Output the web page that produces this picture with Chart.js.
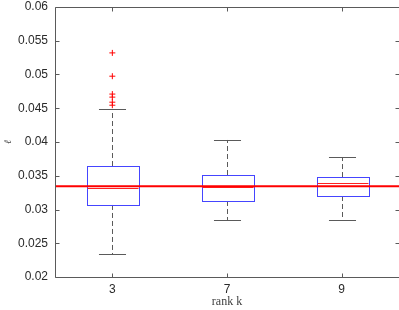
<!DOCTYPE html>
<html>
<head>
<meta charset="utf-8">
<script src="https://cdn.jsdelivr.net/npm/chart.js@4/dist/chart.umd.min.js"></script>
<style>
  html, body { margin: 0; padding: 0; background: #fff; }
  #wrap { width: 399px; height: 310px; }
</style>
</head>
<body>
<div id="wrap"><canvas id="chart" width="399" height="310"></canvas></div>
<script>
// box plot data, one entry per rank
const ranks = ['3', '7', '9'];
const whiskerLow = [0.0234, 0.02845, 0.02845];
const q1 = [0.03067, 0.03126, 0.0320];
const median = [0.03319, 0.03333, 0.03393];
const q3 = [0.03644, 0.03511, 0.03481];
const whiskerHigh = [0.04485, 0.0403, 0.03778];
// outliers (rank index, value)
const outlierRank = [1, 1, 1, 1, 1, 1];
const outlierValue = [0.0532, 0.04975, 0.04710, 0.04665, 0.04590, 0.04545];
const refValue = 0.03345;
const yTicks = [0.02, 0.025, 0.03, 0.035, 0.04, 0.045, 0.05, 0.055, 0.06];

const axisGrey = '#5a5a5a';

// draws boxes, whiskers, medians, the reference line and the MATLAB style frame
const boxPlugin = {
    id: 'boxPlugin',
    beforeDatasetsDraw(chart) {
        const { ctx, chartArea: a, scales: { x, y } } = chart;
        const unit = x.getPixelForValue(2) - x.getPixelForValue(1);
        const boxHalf = unit * 0.226;
        const capHalf = unit * 0.118;

        ctx.save();
        ranks.forEach((r, i) => {
            const cx = Math.round(x.getPixelForValue(i + 1)) + 0.5;
            const yLo = y.getPixelForValue(whiskerLow[i]);
            const yQ1 = y.getPixelForValue(q1[i]);
            const yMed = y.getPixelForValue(median[i]);
            const yQ3 = y.getPixelForValue(q3[i]);
            const yHi = y.getPixelForValue(whiskerHigh[i]);

            // dashed whiskers
            ctx.strokeStyle = axisGrey;
            ctx.lineWidth = 1;
            ctx.setLineDash([5, 3]);
            ctx.beginPath();
            ctx.moveTo(cx, yQ3); ctx.lineTo(cx, yHi);
            ctx.moveTo(cx, yQ1); ctx.lineTo(cx, yLo);
            ctx.stroke();
            ctx.setLineDash([]);

            // caps
            ctx.beginPath();
            ctx.moveTo(cx - capHalf, Math.round(yHi) + 0.5); ctx.lineTo(cx + capHalf, Math.round(yHi) + 0.5);
            ctx.moveTo(cx - capHalf, Math.round(yLo) + 0.5); ctx.lineTo(cx + capHalf, Math.round(yLo) + 0.5);
            ctx.stroke();

            // box
            ctx.strokeStyle = '#4545ff';
            ctx.strokeRect(Math.round(cx - boxHalf) + 0.5, Math.round(yQ3) + 0.5,
                Math.round(boxHalf * 2), Math.round(yQ1 - yQ3));

            // median
            ctx.strokeStyle = '#ff2020';
            ctx.beginPath();
            ctx.moveTo(Math.round(cx - boxHalf) + 0.5, Math.round(yMed) + 0.5);
            ctx.lineTo(Math.round(cx + boxHalf) + 0.5, Math.round(yMed) + 0.5);
            ctx.stroke();
        });

        // reference line
        const yRef = y.getPixelForValue(refValue);
        ctx.strokeStyle = '#ff0000';
        ctx.lineWidth = 2;
        ctx.beginPath();
        ctx.moveTo(a.left, yRef);
        ctx.lineTo(a.right, yRef);
        ctx.stroke();

        // frame with inward ticks (right edge sits just past the canvas)
        ctx.strokeStyle = axisGrey;
        ctx.lineWidth = 1;
        const L = a.left + 0.5, R = a.right + 0.5, T = a.top + 0.5, B = a.bottom + 0.5;
        ctx.beginPath();
        ctx.rect(L, T, R - L, B - T);
        yTicks.forEach(v => {
            const py = Math.round(y.getPixelForValue(v)) + 0.5;
            ctx.moveTo(L, py); ctx.lineTo(L + 4, py);
            ctx.moveTo(R, py); ctx.lineTo(R - 4, py);
        });
        ranks.forEach((r, i) => {
            const px = Math.round(x.getPixelForValue(i + 1)) + 0.5;
            ctx.moveTo(px, B); ctx.lineTo(px, B - 4);
            ctx.moveTo(px, T); ctx.lineTo(px, T + 4);
        });
        ctx.stroke();
        ctx.restore();
    }
};

const ctx = document.getElementById('chart').getContext('2d');
new Chart(ctx, {
    type: 'scatter',
    data: {
        datasets: [{
            label: 'outliers',
            data: outlierRank.map((r, i) => ({ x: r, y: outlierValue[i] })),
            pointStyle: 'cross',
            pointRadius: 3,
            pointBorderColor: '#ff0000',
            pointBackgroundColor: '#ff0000',
            pointHoverRadius: 3,
            pointHoverBorderColor: '#ff0000',
            borderColor: '#ff0000',
            borderWidth: 1,
            backgroundColor: '#ff0000'
        }]
    },
    options: {
        responsive: false,
        animation: false,
        events: [],
        layout: { autoPadding: false, padding: { top: 7, right: 0, left: 0, bottom: 0 } },
        plugins: {
            legend: { display: false },
            tooltip: { enabled: false }
        },
        scales: {
            x: {
                type: 'linear',
                min: 0.5,
                max: 3.5,
                grid: { display: false, drawTicks: false },
                border: { display: false },
                afterBuildTicks: scale => {
                    scale.ticks = ranks.map((r, i) => ({ value: i + 1 }));
                },
                afterFit: scale => {
                    scale.height = 33;
                    scale.paddingLeft = 0;
                    scale.paddingRight = 0;
                },
                ticks: {
                    padding: 5,
                    color: '#2a2a2a',
                    font: { family: 'Liberation Sans', size: 12 },
                    callback: v => ranks[v - 1]
                },
                title: {
                    display: true,
                    text: 'rank k',
                    color: '#404040',
                    padding: { top: 0, bottom: 1 },
                    font: { family: 'Liberation Serif', size: 12 }
                }
            },
            y: {
                min: 0.02,
                max: 0.06,
                grid: { display: false, drawTicks: false },
                border: { display: false },
                afterBuildTicks: scale => {
                    scale.ticks = yTicks.map(v => ({ value: v }));
                },
                afterFit: scale => {
                    scale.width = 55;
                    scale.paddingTop = 0;
                    scale.paddingBottom = 0;
                },
                ticks: {
                    padding: 7,
                    color: '#2a2a2a',
                    font: { family: 'Liberation Sans', size: 12 },
                    callback: v => String(+v.toFixed(3))
                },
                title: {
                    display: true,
                    text: 'ℓ',
                    color: '#404040',
                    padding: { top: 2, bottom: 0 },
                    font: { family: 'DejaVu Serif', size: 10, style: 'italic' }
                }
            }
        }
    },
    plugins: [boxPlugin]
});
</script>
</body>
</html>
